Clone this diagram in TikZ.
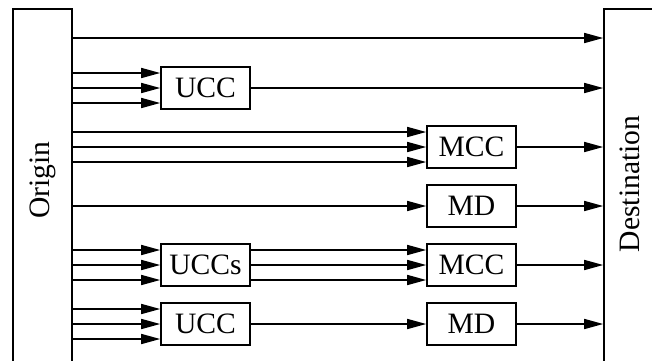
\documentclass[tikz,border=0pt]{standalone}
\usepackage{fontspec}
\setmainfont{Liberation Serif}
\usetikzlibrary{arrows.meta, positioning, calc}

\begin{document}
\begin{tikzpicture}[
    x=0.5pt, y=-0.5pt,
    font=\fontsize{14.8}{17}\selectfont,
    side/.style={rectangle, draw, line width=0.8pt, minimum width=29.5pt, minimum height=200pt, inner sep=0pt, anchor=north},
    block/.style={rectangle, draw, line width=0.8pt, minimum width=44.5pt, minimum height=21pt, inner sep=0pt},
    arrow/.style={line width=0.8pt, -{Triangle[length=9.5pt, width=5pt]}}
]
\clip (0,0) rectangle (652,360);

% Ends
\node [side] (origin) at (42.5, 8) {};
\node [side, minimum width=26pt] (dest) at (630, 8) {};
\node [rotate=90] (originlbl) at (42.5, 180) {Origin};
\node [rotate=90] (destlbl) at (630, 184) {Destination};

% Stages
\node [block] (ucc1) at (205.5, 88) {UCC};
\node [block] (mcc1) at (471.5, 147) {MCC};
\node [block] (md1) at (471.5, 206) {MD};
\node [block] (uccs) at (205.5, 265) {UCCs};
\node [block] (mcc2) at (471.5, 265) {MCC};
\node [block] (ucc2) at (205.5, 324) {UCC};
\node [block] (md2) at (471.5, 324) {MD};

% Direct path
\coordinate (direct) at (0, 38);
\draw [arrow] (direct -| origin.east) -- (direct -| dest.west);

% Bundles out of the origin
\foreach \n in {ucc1, mcc1, uccs, ucc2}
  \foreach \s in {-7.5pt, 0pt, 7.5pt}
    \draw [arrow] ($(origin.east |- \n.west)+(0,\s)$) -- ([yshift=\s]\n.west);
\draw [arrow] (origin.east |- md1.west) -- (md1.west);

% Between stages
\foreach \s in {-7.5pt, 0pt, 7.5pt}
  \draw [arrow] ([yshift=\s]uccs.east) -- ([yshift=\s]mcc2.west);
\draw [arrow] (ucc2) -- (md2);

% Into the destination
\foreach \n in {ucc1, mcc1, md1, mcc2, md2}
  \draw [arrow] (\n.east) -- (\n.east -| dest.west);

\end{tikzpicture}
\end{document}
